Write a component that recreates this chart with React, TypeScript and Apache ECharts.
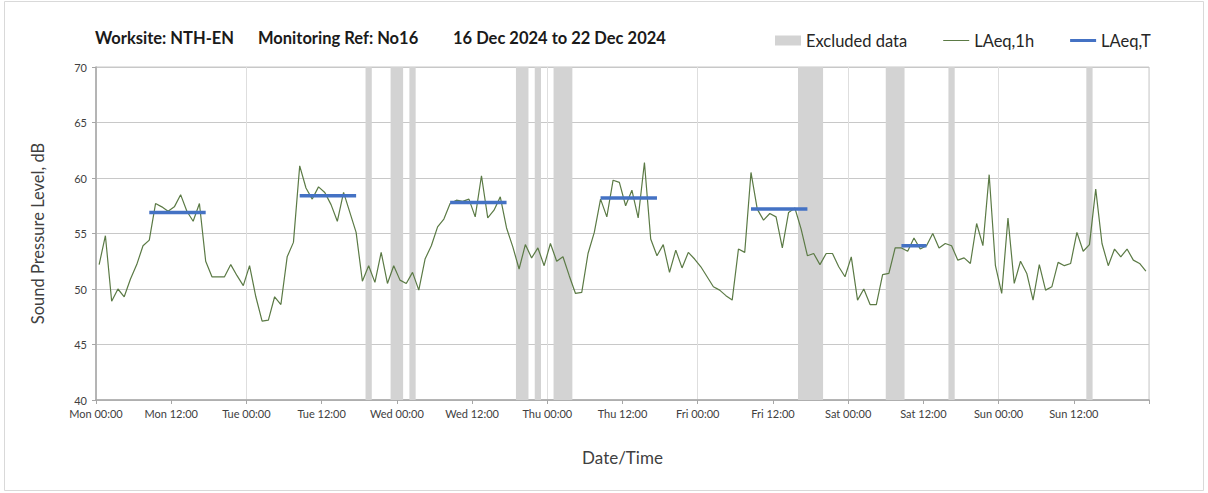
import React, { useEffect, useRef } from "react";
import * as echarts from "echarts";

// Hourly LAeq,1h values (Mon 00:00 .. Sun 23:00), one per hour
const laeq1h: number[] = [
  52.2, 54.8, 48.9, 50.0, 49.3, 50.9, 52.2, 53.9, 54.4, 57.7, 57.4, 57.0,
  57.4, 58.5, 57.0, 56.1, 57.7, 52.5, 51.1, 51.1, 51.1, 52.2, 51.2, 50.3,
  52.1, 49.3, 47.1, 47.2, 49.3, 48.6, 52.9, 54.2, 61.1, 59.1, 58.1, 59.2,
  58.7, 57.6, 56.1, 58.7, 56.9, 55.1, 50.7, 52.1, 50.6, 53.3, 50.5, 52.1,
  50.8, 50.5, 51.5, 49.9, 52.7, 53.9, 55.6, 56.3, 57.7, 58.0, 57.9, 58.1,
  56.5, 60.2, 56.4, 57.1, 58.3, 55.5, 53.8, 51.8, 54.0, 52.8, 53.7, 52.1,
  54.1, 52.5, 52.9, 51.2, 49.6, 49.7, 53.2, 55.1, 58.1, 56.5, 59.8, 59.6,
  57.5, 58.9, 56.4, 61.4, 54.5, 53.0, 54.0, 51.5, 53.5, 51.9, 53.3, 52.7,
  52.0, 51.1, 50.2, 49.9, 49.4, 49.0, 53.6, 53.3, 60.5, 57.2, 56.2, 56.8,
  56.5, 53.7, 56.9, 57.3, 55.4, 53.0, 53.2, 52.2, 53.2, 53.2, 52.0, 51.1,
  52.9, 49.0, 50.0, 48.6, 48.6, 51.3, 51.4, 53.7, 53.7, 53.4, 54.6, 53.6,
  53.9, 55.0, 53.7, 54.1, 53.9, 52.6, 52.8, 52.3, 55.9, 53.9, 60.3, 52.1,
  49.6, 56.4, 50.5, 52.5, 51.4, 49.0, 52.2, 49.9, 50.2, 52.4, 52.1, 52.3,
  55.1, 53.4, 54.0, 59.0, 54.1, 52.1, 53.6, 52.9, 53.6, 52.6, 52.3, 51.6,
];

// Excluded data periods: [start hour, end hour] from Mon 00:00
const excludedStart: number[] = [43, 47, 50, 67, 70, 73, 112, 126, 136, 158];
const excludedEnd: number[] = [44, 49, 51, 69, 71, 76, 116, 129, 137, 159];

// LAeq,T periods: first hour, last hour (inclusive), level
const periodFirstHour: number[] = [8, 32, 56, 80, 104, 128];
const periodLastHour: number[] = [17, 41, 65, 89, 113, 132];
const periodLevel: number[] = [56.9, 58.4, 57.8, 58.2, 57.2, 53.9];

const xTickLabels: string[] = [
  "Mon 00:00", "Mon 12:00", "Tue 00:00", "Tue 12:00", "Wed 00:00", "Wed 12:00",
  "Thu 00:00", "Thu 12:00", "Fri 00:00", "Fri 12:00", "Sat 00:00", "Sat 12:00",
  "Sun 00:00", "Sun 12:00", "",
];

const FONT = "Lato, 'Noto Sans', sans-serif";

export default function App() {
  const ref = useRef<HTMLDivElement>(null);
  useEffect(() => {
    if (!ref.current) return;
    const chart = echarts.init(ref.current, undefined, { renderer: "svg" });
    const lineData = laeq1h.map((v, i) => [i + 0.5, v]);
    const periodSeries = periodLevel.map((lv, i) => ({
      name: "LAeq,T",
      type: "line",
      xAxisIndex: 0,
      symbol: "none",
      color: "#4472C4",
      lineStyle: { color: "#4472C4", width: 3.5 },
      data: [
        [periodFirstHour[i] + 0.5, lv],
        [periodLastHour[i] + 0.5, lv],
      ],
      z: 4,
    }));
    chart.setOption({
      animation: false,
      textStyle: { fontFamily: FONT },
      grid: {
        left: 96,
        right: 59,
        top: 67,
        bottom: 93,
        show: true,
        borderColor: "#c8c8c8",
        borderWidth: 1,
      },
      legend: {
        left: 775,
        top: 32,
        padding: 0,
        itemWidth: 26,
        itemHeight: 10,
        itemGap: 36,
        textStyle: { fontSize: 16.5, color: "#262626", fontFamily: FONT },
        data: [
          { name: "Excluded data", icon: "rect" },
          { name: "LAeq,1h", icon: "path://M0,0H26V1H0Z" },
          { name: "LAeq,T", icon: "path://M0,0H26V3H0Z" },
        ],
      },
      xAxis: [
        {
          type: "value",
          min: 0,
          max: 168,
          interval: 12,
          name: "Date/Time",
          nameLocation: "middle",
          nameGap: 49,
          nameTextStyle: { fontSize: 17, color: "#404040" },
          axisLine: { show: true, lineStyle: { color: "#a6a6a6", width: 1.5 } },
          axisTick: { show: true, length: 4, lineStyle: { color: "#a6a6a6" } },
          axisLabel: {
            fontSize: 11,
            color: "#404040",
            margin: 8,
            formatter: (v: number) => xTickLabels[Math.round(v / 12)] ?? "",
          },
          splitLine: { show: false },
        },
        {
          type: "value",
          min: 0,
          max: 168,
          interval: 24,
          position: "bottom",
          axisLine: { show: false },
          axisTick: { show: false },
          axisLabel: { show: false },
          splitLine: { show: true, lineStyle: { color: "#dedede", width: 1 } },
        },
      ],
      yAxis: {
        type: "value",
        min: 40,
        max: 70,
        interval: 5,
        name: "Sound Pressure Level, dB",
        nameLocation: "middle",
        nameGap: 50,
        nameTextStyle: { fontSize: 16.5, color: "#404040" },
        axisLine: { show: true, lineStyle: { color: "#a6a6a6", width: 1.5 } },
        axisTick: { show: true, length: 4, lineStyle: { color: "#a6a6a6" } },
        axisLabel: { fontSize: 11, color: "#404040", margin: 9 },
        splitLine: { show: true, lineStyle: { color: "#c8c8c8", width: 1 } },
      },
      series: [
        {
          name: "Excluded data",
          type: "line",
          xAxisIndex: 0,
          color: "#d3d3d3",
          data: [],
          markArea: {
            silent: true,
            itemStyle: { color: "#d3d3d3", opacity: 1 },
            data: excludedStart.map((s, i) => [
              { xAxis: s },
              { xAxis: excludedEnd[i] },
            ]),
          },
          z: 1,
        },
        {
          name: "LAeq,1h",
          type: "line",
          xAxisIndex: 0,
          symbol: "none",
          color: "#5b7a45",
          lineStyle: { color: "#5b7a45", width: 1.2 },
          data: lineData,
          z: 3,
        },
        ...periodSeries,
      ],
      graphic: [
        {
          type: "rect",
          shape: { x: 4.5, y: 1.5, width: 1199, height: 489 },
          style: { fill: "none", stroke: "#d9d9d9", lineWidth: 1 },
          silent: true,
        },
        {
          type: "text",
          x: 95,
          y: 38,
          style: {
            text: "Worksite: NTH-EN",
            font: `bold 16.5px ${FONT}`,
            fill: "#1a1a1a",
            textVerticalAlign: "middle",
          },
        },
        {
          type: "text",
          x: 258,
          y: 38,
          style: {
            text: "Monitoring Ref: No16",
            font: `bold 16.5px ${FONT}`,
            fill: "#1a1a1a",
            textVerticalAlign: "middle",
          },
        },
        {
          type: "text",
          x: 453,
          y: 38,
          style: {
            text: "16 Dec 2024 to 22 Dec 2024",
            font: `bold 16.5px ${FONT}`,
            fill: "#1a1a1a",
            textVerticalAlign: "middle",
          },
        },
      ],
    });
    return () => chart.dispose();
  }, []);
  return (
    <div
      ref={ref}
      style={{ position: "fixed", left: 0, top: 0, width: 1208, height: 493, background: "#fff" }}
    />
  );
}
